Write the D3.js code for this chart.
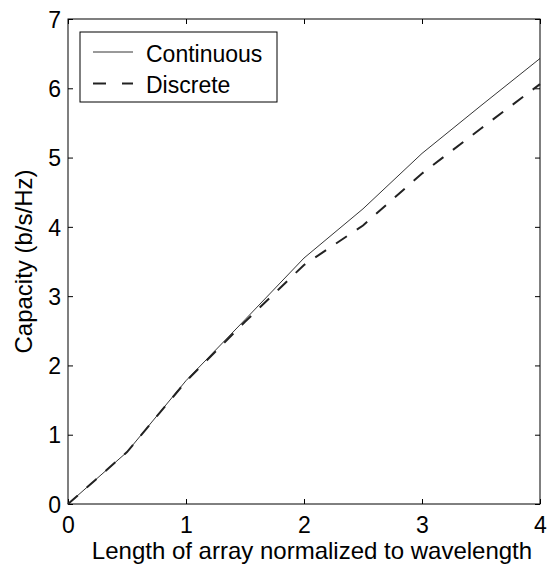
<!DOCTYPE html>
<html><head><meta charset="utf-8">
<script src="https://cdn.jsdelivr.net/npm/d3@7"></script>
<style>body{margin:0;background:#fff}text{font-family:"Liberation Sans",Arial,sans-serif}</style>
</head><body>
<svg id="c" width="560" height="567"></svg>
<script>
const xVals = [0, 0.5, 1, 1.5, 2, 2.5, 3, 3.5, 4];
const continuous = [0, 0.75, 1.78, 2.66, 3.55, 4.26, 5.06, 5.75, 6.43];
const discrete   = [0, 0.75, 1.77, 2.63, 3.45, 4.02, 4.77, 5.42, 6.06];
const xTicks = [0, 1, 2, 3, 4];
const yTicks = [0, 1, 2, 3, 4, 5, 6, 7];
const seriesNames = ["Continuous", "Discrete"];

const svg = d3.select("#c");
const L = 68, R = 540, T = 19, B = 504;
const x = d3.scaleLinear().domain([0, 4]).range([L, R]);
const y = d3.scaleLinear().domain([0, 7]).range([B, T]);

svg.append("rect").attr("x", L).attr("y", T).attr("width", R - L).attr("height", B - T)
  .attr("fill", "none").attr("stroke", "#000").attr("stroke-width", 1);

const fs = "23px";
const bx = svg.append("g").attr("transform", `translate(0,${B})`)
  .call(d3.axisBottom(x).tickValues(xTicks).tickFormat(d3.format("d")).tickSizeInner(-5).tickSizeOuter(0).tickPadding(8));
const tx = svg.append("g").attr("transform", `translate(0,${T})`)
  .call(d3.axisTop(x).tickValues(xTicks).tickFormat("").tickSizeInner(-5).tickSizeOuter(0));
const ly = svg.append("g").attr("transform", `translate(${L},0)`)
  .call(d3.axisLeft(y).tickValues(yTicks).tickFormat(d3.format("d")).tickSizeInner(-5).tickSizeOuter(0).tickPadding(7));
const ry = svg.append("g").attr("transform", `translate(${R},0)`)
  .call(d3.axisRight(y).tickValues(yTicks).tickFormat("").tickSizeInner(-5).tickSizeOuter(0));
[bx, tx, ly, ry].forEach(g => {
  g.select(".domain").remove();
  g.selectAll("text").style("font-size", fs).attr("fill", "#000").style("font-family", '"Liberation Sans",Arial,sans-serif');
  g.selectAll("line").attr("stroke", "#000");
});
bx.selectAll("text").attr("dy", null).attr("y", 29).attr("dominant-baseline", null);
ly.selectAll("text").attr("dy", "0.36em");

const line = d3.line().x((d, i) => x(xVals[i])).y(d => y(d));
svg.append("path").datum(continuous).attr("d", line).attr("fill", "none").attr("stroke", "#000").attr("stroke-width", 0.8);
svg.append("path").datum(discrete).attr("d", line).attr("fill", "none").attr("stroke", "#222").attr("stroke-width", 2).attr("stroke-dasharray", "13,12");

// axis labels
svg.append("text").attr("x", (L + R) / 2 + 8).attr("y", 559).attr("text-anchor", "middle").style("font-size", "24px").text("Length of array normalized to wavelength");
svg.append("text").attr("transform", `translate(32,${(T + B) / 2}) rotate(-90)`).attr("text-anchor", "middle").style("font-size", "24px").text("Capacity (b/s/Hz)");

// legend
const lg = svg.append("g");
lg.append("rect").attr("x", 80).attr("y", 32).attr("width", 197).attr("height", 70).attr("fill", "#fff").attr("stroke", "#000").attr("stroke-width", 1);
const styles = [{w: 0.8, dash: null, c: "#000"}, {w: 2, dash: "13,16", c: "#222"}];
seriesNames.forEach((n, i) => {
  const yy = 52 + i * 31.5;
  lg.append("line").attr("x1", 93).attr("x2", 133).attr("y1", yy).attr("y2", yy)
    .attr("stroke", styles[i].c).attr("stroke-width", styles[i].w).attr("stroke-dasharray", styles[i].dash);
  lg.append("text").attr("x", 146).attr("y", yy + 9.5).style("font-size", fs).text(n);
});
</script>
</body></html>
